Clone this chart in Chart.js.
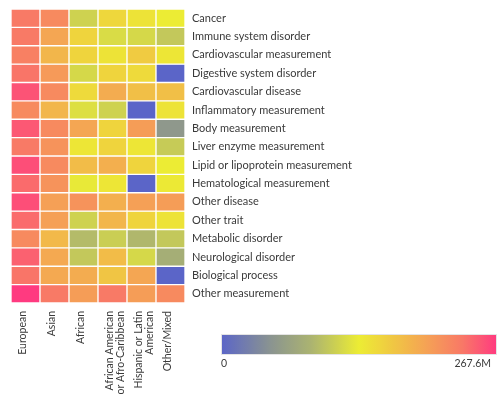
<!DOCTYPE html>
<html>
<head>
<meta charset="utf-8">
<script src="https://cdn.jsdelivr.net/npm/chart.js@4/dist/chart.umd.min.js"></script>
<style>
  html, body { margin: 0; padding: 0; background: #fff; }
  #wrap { width: 497px; height: 395px; }
</style>
</head>
<body>
<div id="wrap"><canvas id="c" width="497" height="395"></canvas></div>
<script>
// Ancestry groups (columns) and trait categories (rows)
const ancestries = ['European', 'Asian', 'African', ['African American', 'or Afro-Caribbean'], ['Hispanic or Latin', 'American'], 'Other/Mixed'];
const traits = [
  'Cancer', 'Immune system disorder', 'Cardiovascular measurement', 'Digestive system disorder',
  'Cardiovascular disease', 'Inflammatory measurement', 'Body measurement', 'Liver enzyme measurement',
  'Lipid or lipoprotein measurement', 'Hematological measurement', 'Other disease', 'Other trait',
  'Metabolic disorder', 'Neurological disorder', 'Biological process', 'Other measurement'
];

// Values per ancestry, in millions, one per trait
const european     = [232.8, 232.8, 227.5, 235.5, 254.2, 219.4, 251.5, 232.8, 256.9, 240.8, 256.9, 240.8, 219.4, 246.2, 235.5, 267.6];
const asian        = [219.4, 195.3, 182.0, 206.1, 219.4, 182.0, 219.4, 211.4, 219.4, 211.4, 200.7, 200.7, 179.3, 192.7, 192.7, 232.8];
const african      = [112.4, 155.2, 155.2, 117.7, 149.9, 123.1, 195.3, 139.2, 176.6, 131.1, 211.4, 112.4,  93.7, 104.4, 190.0, 203.4];
const afroAmerican = [152.5, 120.4, 141.8, 155.2, 190.0, 112.4, 155.2, 155.2, 187.3, 139.2, 187.3, 182.0, 109.7, 176.6, 168.6, 232.8];
const hispanic     = [141.8, 117.7, 163.2, 149.9, 173.9,   0.0, 203.4, 139.2, 155.2,   0.0, 200.7, 155.2,  91.0, 117.7, 195.3, 203.4];
const otherMixed   = [133.8, 104.4, 139.2,   0.0, 173.9, 141.8,  53.5, 107.0, 133.8, 136.5, 203.4, 141.8, 104.4,  80.3,   0.0, 219.4];

// Colour scale range and its end labels
const scaleMin = 0;
const scaleMax = 267.6;
const scaleLabels = ['0', '267.6M'];

const series = [european, asian, african, afroAmerican, hispanic, otherMixed];

// Blue -> grey -> yellow -> orange -> pink
const stops = [
  [0.00, [91, 101, 200]],
  [0.18, [138, 148, 144]],
  [0.33, [172, 180, 112]],
  [0.50, [236, 236, 52]],
  [0.62, [240, 200, 66]],
  [0.75, [245, 160, 86]],
  [0.87, [248, 122, 102]],
  [1.00, [255, 58, 128]]
];
function colorAt(t) {
  t = Math.max(0, Math.min(1, t));
  for (let i = 1; i < stops.length; i++) {
    if (t <= stops[i][0]) {
      const [t0, c0] = stops[i - 1], [t1, c1] = stops[i];
      const f = (t - t0) / (t1 - t0);
      const c = c0.map((v, k) => Math.round(v + (c1[k] - v) * f));
      return `rgb(${c[0]},${c[1]},${c[2]})`;
    }
  }
  const c = stops[stops.length - 1][1];
  return `rgb(${c[0]},${c[1]},${c[2]})`;
}
function colorFor(v) { return colorAt((v - scaleMin) / (scaleMax - scaleMin)); }

// One stacked dataset per trait row; each cell is one unit tall, coloured by its value
const datasets = traits.map((name, r) => ({
  label: name,
  data: ancestries.map(() => 1),
  backgroundColor: series.map(s => colorFor(s[r])),
  borderColor: '#ffffff',
  borderWidth: 1,
  borderSkipped: false,
  barPercentage: 1,
  categoryPercentage: 1
}));

const FONT = 'Lato, sans-serif';
const TEXT = '#3a3a3a';

const colorBar = {
  id: 'colorBar',
  afterDraw(chart) {
    const ctx = chart.ctx, area = chart.chartArea;
    const x0 = area.right + 36, x1 = chart.width, y0 = area.bottom + 31, h = 21;
    const g = ctx.createLinearGradient(x0, 0, x1, 0);
    for (let i = 0; i <= 40; i++) g.addColorStop(i / 40, colorAt(i / 40));
    ctx.save();
    ctx.fillStyle = g;
    ctx.fillRect(x0, y0, x1 - x0, h);
    ctx.strokeStyle = '#e4e4e4';
    ctx.lineWidth = 1;
    ctx.strokeRect(x0 + 0.5, y0 + 0.5, x1 - x0 - 1, h - 1);
    ctx.fillStyle = TEXT;
    ctx.font = '10.5px ' + FONT;
    ctx.textBaseline = 'top';
    ctx.textAlign = 'left';
    ctx.fillText(scaleLabels[0], x0, y0 + h + 3);
    ctx.textAlign = 'right';
    ctx.fillText(scaleLabels[1], x1 - 6, y0 + h + 3);
    ctx.restore();
  }
};

new Chart(document.getElementById('c'), {
  type: 'bar',
  data: { labels: ancestries, datasets },
  options: {
    responsive: false,
    animation: false,
    layout: { padding: { left: 11, top: 9, right: 0, bottom: 0 } },
    plugins: { legend: { display: false }, tooltip: { enabled: false } },
    scales: {
      x: {
        stacked: true,
        grid: { display: false },
        border: { display: false },
        ticks: {
          color: TEXT, font: { family: FONT, size: 10.5, lineHeight: 1.1 }, minRotation: 90, maxRotation: 90,
          padding: 0, labelOffset: -3, autoSkip: false
        },
        afterFit(s) { s.height = 92; s.paddingLeft = 0; s.paddingRight = 0; }
      },
      y: {
        stacked: true, reverse: true, min: 0, max: traits.length, display: false
      },
      rows: {
        type: 'category', labels: traits, position: 'right', offset: true,
        grid: { display: false, drawTicks: false },
        border: { display: false },
        ticks: { color: TEXT, font: { family: FONT, size: 11 }, padding: 7, autoSkip: false },
        afterFit(s) { s.width = 312; s.paddingTop = 0; s.paddingBottom = 0; }
      }
    }
  },
  plugins: [colorBar]
});
</script>
</body>
</html>
